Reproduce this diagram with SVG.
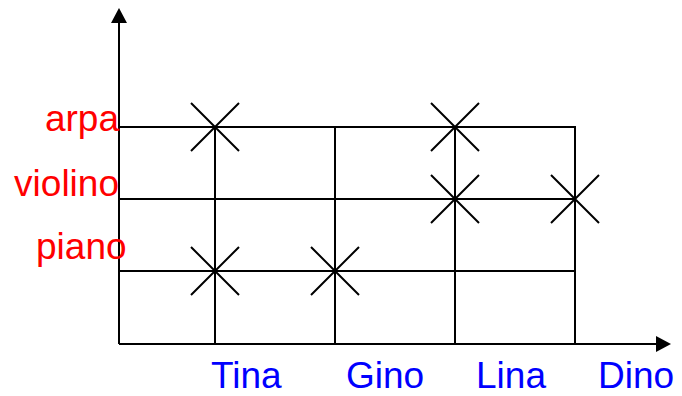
<svg xmlns="http://www.w3.org/2000/svg" width="682" height="396" viewBox="0 0 682 396">
<style>
.ln{stroke:#000;stroke-width:2;fill:none}
.yl{font-family:"Liberation Sans",Arial,sans-serif;font-size:37px;fill:#FF0000}
.xl{font-family:"Liberation Sans",Arial,sans-serif;font-size:37px;fill:#0000FF}
</style>
<defs>
<g id="cross"><path class="ln" d="M-24,-24L24,24M-24,24L24,-24"/></g>
</defs>
<rect width="682" height="396" fill="#fff"/>
<g id="connectors">
<path class="ln" d="M119,344V22"/>
<polygon points="119,8 111,23 127,23" fill="#000"/>
<path class="ln" d="M119,344H657"/>
<polygon points="671,344 656,336 656,352" fill="#000"/>
<path class="ln" d="M119,127H575V344M119,199H575M119,271H575M215,127V344M335,127V344M455,127V344"/>
</g>
<g id="axis-y-labels">
<text class="yl" x="119" y="131" text-anchor="end">arpa</text>
<text class="yl" x="119" y="196" text-anchor="end">violino</text>
<text class="yl" x="36" y="259">piano</text>
</g>
<g id="axis-x-labels">
<text class="xl" x="211" y="388">Tina</text>
<text class="xl" x="346" y="388">Gino</text>
<text class="xl" x="476" y="388">Lina</text>
<text class="xl" x="598" y="388">Dino</text>
</g>
<g id="marks">
<use href="#cross" x="215" y="127"/>
<use href="#cross" x="455" y="127"/>
<use href="#cross" x="455" y="199"/>
<use href="#cross" x="575" y="199"/>
<use href="#cross" x="215" y="271"/>
<use href="#cross" x="335" y="271"/>
</g>
</svg>
